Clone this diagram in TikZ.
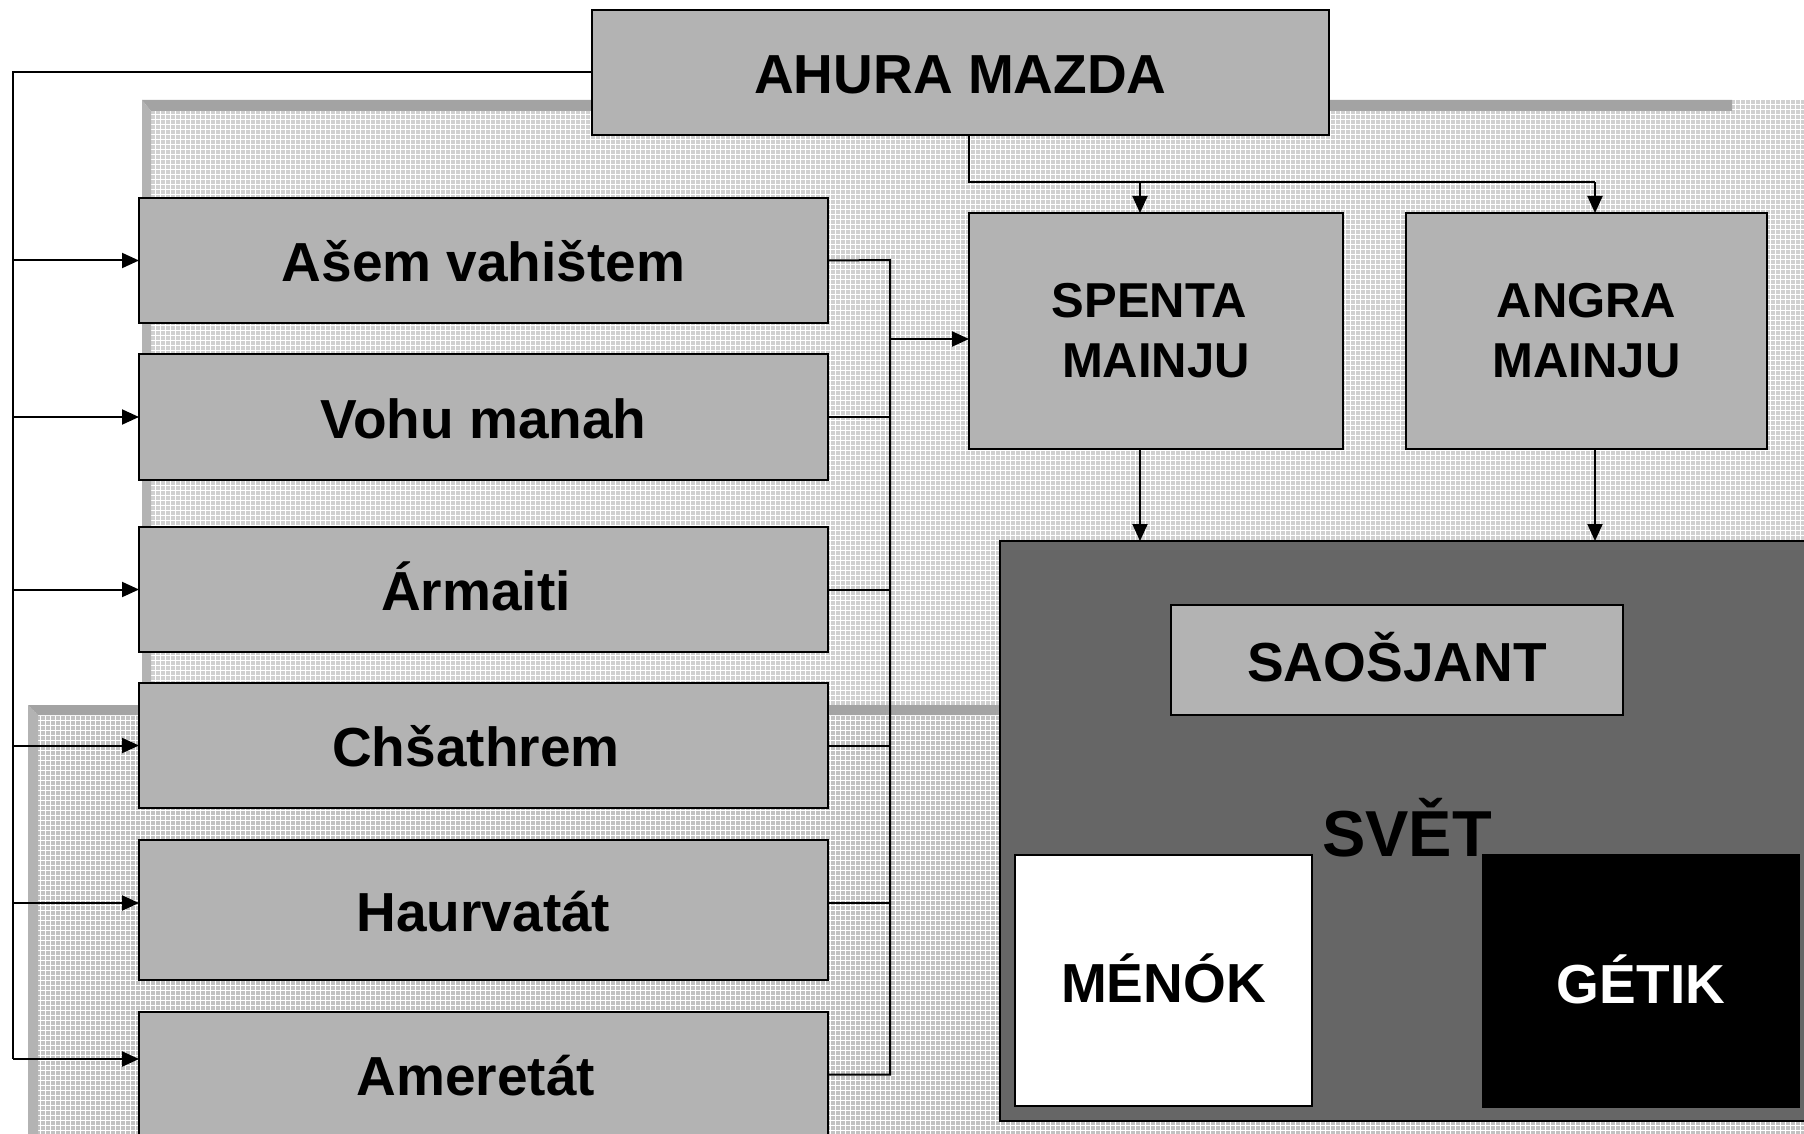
\documentclass[tikz,border=0pt]{standalone}
\usepackage{fontspec}
\setmainfont{Liberation Sans}
\usetikzlibrary{arrows.meta,calc}
\definecolor{boxgray}{HTML}{B3B3B3}
\definecolor{worldgray}{HTML}{666666}
\definecolor{panelA}{HTML}{D0D0D0}
\definecolor{panelB}{HTML}{C2C2C2}
\definecolor{bandtop}{HTML}{A3A3A3}
\definecolor{bandleft}{HTML}{B3B3B3}
\tikzset{
  gbox/.style={draw=black, line width=1.3pt, fill=boxgray, inner sep=0pt, outer sep=0pt,
    anchor=north west, align=center, text height=25pt, text depth=4pt,
    font=\bfseries\fontsize{27.5}{33}\selectfont},
  conn/.style={draw=black, line width=1pt},
  arr/.style={conn, -{Triangle[length=8.5pt,width=7.5pt]}},
  mesh/.style={white, line width=0.5pt},
}
\begin{document}
\begin{tikzpicture}[x=0.5pt,y=-0.5pt]
\clip (0,0) rectangle (1804,1134);
% background panels
\begin{scope}
\clip (142,100) rectangle (1830,706);
\fill[panelA] (142,100) rectangle (1830,706);
\draw[mesh, xstep=2.5pt, ystep=2.5pt] (140,98) grid (1830,710);
\end{scope}
\fill[bandtop] (142,100) -- (1732,100) -- (1732,111) -- (151,111) -- cycle;
\fill[bandleft] (142,100) -- (151,111) -- (151,706) -- (142,706) -- cycle;
\begin{scope}
\clip (28,705) rectangle (1830,1160);
\fill[panelB] (28,705) rectangle (1830,1160);
\draw[mesh, xstep=2.5pt, ystep=2.5pt] (25,700) grid (1830,1160);
\end{scope}
\fill[bandtop] (28,705) -- (1732,705) -- (1732,715) -- (38,715) -- cycle;
\fill[bandleft] (28,705) -- (38,715) -- (38,1160) -- (28,1160) -- cycle;

% nodes
\node[gbox, minimum width=368.5pt, minimum height=62.5pt] (ahura) at (592,10) {AHURA MAZDA};
\node[gbox, minimum width=344.5pt, minimum height=62.5pt] (asem) at (139,198) {Ašem vahištem};
\node[gbox, minimum width=344.5pt, minimum height=63pt] (vohu) at (139,354) {Vohu manah};
\node[gbox, minimum width=344.5pt, minimum height=62.5pt] (armaiti) at (139,527) {Ármaiti\kern7.6pt};
\node[gbox, minimum width=344.5pt, minimum height=62.5pt] (chsa) at (139,683) {Chšathrem\kern7.6pt};
\node[gbox, minimum width=344.5pt, minimum height=70pt] (haur) at (139,840) {Haurvatát};
\node[gbox, minimum width=344.5pt, minimum height=62.5pt] (amer) at (139,1012) {Ameretát\kern7.6pt};
\node[gbox, minimum width=187pt, minimum height=118pt, text height={}, text depth={},
  font=\bfseries\fontsize{24.5}{30}\selectfont] (spenta) at (969,213) {SPENTA\kern6.8pt\\MAINJU};
\node[gbox, minimum width=180.5pt, minimum height=118pt, text height={}, text depth={},
  font=\bfseries\fontsize{24.5}{30}\selectfont] (angra) at (1406,213) {ANGRA\\MAINJU};
\node[gbox, fill=worldgray, minimum width=410pt, minimum height=290pt] (svet) at (1000,541) {};
\node[gbox, minimum width=226pt, minimum height=55pt] (saos) at (1171,605) {SAOŠJANT};
\node[anchor=base, inner sep=0pt, font=\bfseries\fontsize{32.5}{39}\selectfont] (svettext) at (1407,856) {SVĚT};
\node[gbox, fill=white, text height=26pt, minimum width=148.5pt, minimum height=125.5pt] (menok) at (1015,855) {MÉNÓK};
\node[gbox, fill=black, draw=black, text=white, text height=26pt, minimum width=158pt, minimum height=126pt] (getik) at (1483,855) {GÉTIK};

% helper coordinates
\coordinate (L0) at (12.6,72);
\coordinate (Lend) at (12.6,1059);
\coordinate (haurIn) at (139,903);
\coordinate (amerIn) at (139,1059);
\coordinate (haurOut) at (828,903);
\coordinate (R0) at (890,260);
\coordinate (Rend) at (890,1074.5);
\coordinate (spentaIn) at (969,339);
\coordinate (aS) at (969,135);
\coordinate (aJ) at (969,182);
\coordinate (sN) at (1140,213);
\coordinate (gN) at (1595,213);

% left feed
\draw[conn] (ahura.west |- L0) -- (L0) -- (Lend);
\draw[arr] (L0 |- asem.west) -- (asem.west);
\draw[arr] (L0 |- vohu.west) -- (vohu.west);
\draw[arr] (L0 |- armaiti.west) -- (armaiti.west);
\draw[arr] (L0 |- chsa.west) -- (chsa.west);
\draw[arr] (L0 |- haurIn) -- (haurIn);
\draw[arr] (L0 |- amerIn) -- (amerIn);

% right bus
\draw[conn] (asem.east) -- (R0) -- (Rend) -- (amer.east);
\draw[conn] (vohu.east) -- (R0 |- vohu.east);
\draw[conn] (armaiti.east) -- (R0 |- armaiti.east);
\draw[conn] (chsa.east) -- (R0 |- chsa.east);
\draw[conn] (haurOut) -- (R0 |- haurOut);
\draw[arr] (R0 |- spentaIn) -- (spentaIn);

% ahura down
\draw[conn] (aS) -- (aJ) -- (aJ -| gN);
\draw[arr] (aJ -| sN) -- (sN);
\draw[arr] (aJ -| gN) -- (gN);
\draw[arr] (sN |- spenta.south) -- (sN |- svet.north);
\draw[arr] (gN |- angra.south) -- (gN |- svet.north);
\end{tikzpicture}
\end{document}
